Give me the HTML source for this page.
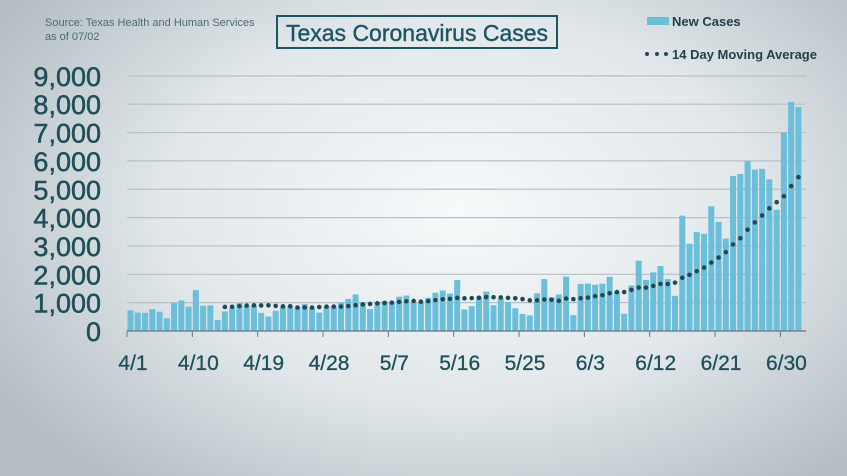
<!DOCTYPE html>
<html><head><meta charset="utf-8"><style>
html,body{margin:0;padding:0;}
body{width:847px;height:476px;overflow:hidden;background:radial-gradient(ellipse 540px 350px at 460px 210px,#f7f9fa 0%,#e1e7ea 55%,#b4bec4 100%);font-family:"Liberation Sans",sans-serif;}
</style></head><body>
<svg id="s" width="847" height="476" xmlns="http://www.w3.org/2000/svg" style="position:absolute;left:0;top:0">
<text x="45" y="26" font-size="11" fill="#4d6a73">Source: Texas Health and Human Services</text>
<text x="45" y="40" font-size="11" fill="#4d6a73">as of 07/02</text>
<rect x="277" y="16" width="280" height="32" fill="none" stroke="#1f5562" stroke-width="2"/>
<text x="417" y="41" font-size="23" fill="#1f5562" stroke="#1f5562" stroke-width="0.4" text-anchor="middle">Texas Coronavirus Cases</text>
<rect x="647" y="17" width="22" height="8" fill="#6bbfda"/>
<text x="672" y="26" font-size="13" font-weight="bold" fill="#23414a">New Cases</text>
<circle cx="647" cy="54" r="2" fill="#1f4a55"/><circle cx="657" cy="54" r="2" fill="#1f4a55"/><circle cx="666" cy="54" r="2" fill="#1f4a55"/>
<text x="672" y="59" font-size="13" font-weight="bold" fill="#23414a">14 Day Moving Average</text>
<g id="g"></g>
</svg>
<script>
var v=[730,650,640,770,680,450,990,1080,860,1440,890,900,390,690,830,980,890,890,640,510,710,870,870,830,950,830,650,870,870,1010,1130,1290,1010,770,1020,1050,1010,1210,1250,990,990,1170,1350,1430,1320,1800,760,880,1190,1390,910,1150,1020,800,600,550,1330,1830,1190,1290,1920,560,1660,1670,1630,1670,1910,1400,610,1610,2480,1800,2070,2290,1830,1240,4070,3080,3490,3430,4400,3850,3260,5470,5540,5990,5690,5720,5350,4280,7000,8080,7900];
var g=document.getElementById('g'),h='';
var X0=127,P=7.26,B=331,K=0.02835;
for(var i=0;i<=9;i++){var y=B-i*1000*K;
 if(i>0)h+='<line x1="127" x2="806" y1="'+y+'" y2="'+y+'" stroke="#b9c1c5" stroke-width="1.2"/>';
 h+='<text x="101" y="'+(y+10)+'" font-size="27" fill="#1e4f5a" stroke="#1e4f5a" stroke-width="0.5" text-anchor="end">'+(i?i+',000':'0')+'</text>';}
for(var i=0;i<v.length;i++){var hh=v[i]*K;h+='<rect x="'+(X0+i*P+0.5).toFixed(2)+'" y="'+(B-hh).toFixed(2)+'" width="6" height="'+hh.toFixed(2)+'" fill="#6bbfda"/>';}
for(var i=13;i<v.length;i++){var s=0;for(var j=i-13;j<=i;j++)s+=v[j];s/=14;if(i<40)s+=50;
 h+='<circle cx="'+(X0+i*P+3.5).toFixed(2)+'" cy="'+(B-s*K).toFixed(2)+'" r="2.3" fill="#1f4a55"/>';}
h+='<line x1="127" x2="806" y1="'+B+'" y2="'+B+'" stroke="#5f7a82" stroke-width="1.2"/>';
var L=['4/1','4/10','4/19','4/28','5/7','5/16','5/25','6/3','6/12','6/21','6/30'];
for(var k=0;k<L.length;k++){var x=X0+k*9*P;h+='<line x1="'+x+'" x2="'+x+'" y1="'+B+'" y2="'+(B+6)+'" stroke="#5f7a82"/>';
 h+='<text x="'+(x+6)+'" y="370" font-size="21" fill="#1e4f5a" stroke="#1e4f5a" stroke-width="0.3" text-anchor="middle">'+L[k]+'</text>';}
g.innerHTML=h;
</script>
</body></html>
